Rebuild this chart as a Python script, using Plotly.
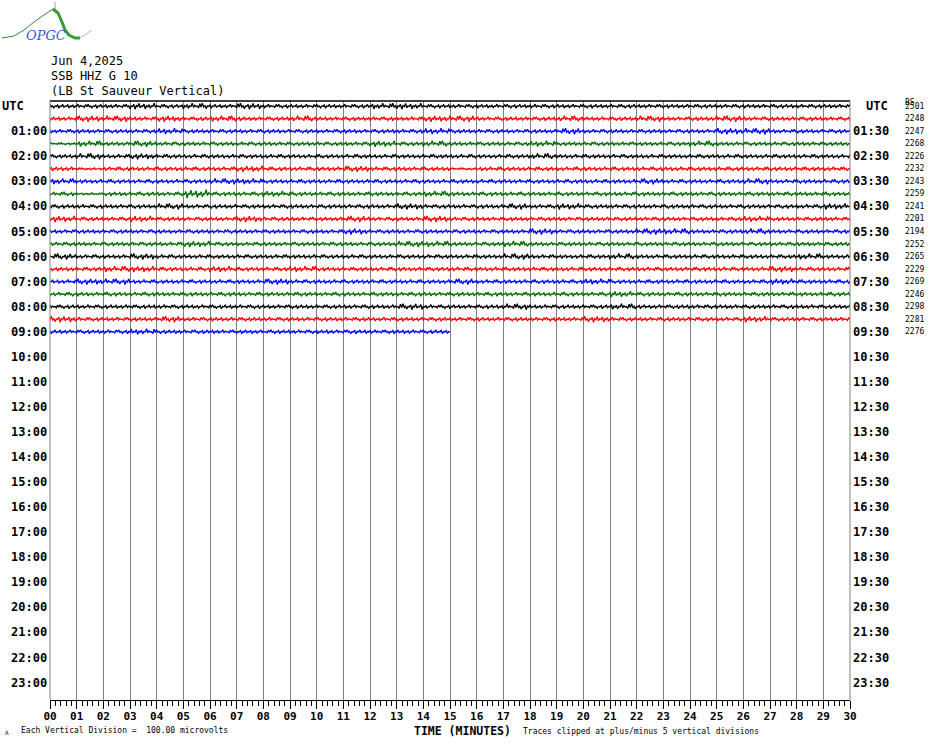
import plotly.graph_objects as go

# ---------------- data ----------------
header_lines = ["Jun 4,2025", "SSB HHZ G 10", "(LB St Sauveur Vertical)"]

minute_ticks = list(range(31))
minute_labels = ["00", "01", "02", "03", "04", "05", "06", "07", "08", "09", "10",
                 "11", "12", "13", "14", "15", "16", "17", "18", "19", "20",
                 "21", "22", "23", "24", "25", "26", "27", "28", "29", "30"]

left_hour_labels = ["UTC", "01:00", "02:00", "03:00", "04:00", "05:00", "06:00", "07:00",
                    "08:00", "09:00", "10:00", "11:00", "12:00", "13:00", "14:00", "15:00",
                    "16:00", "17:00", "18:00", "19:00", "20:00", "21:00", "22:00", "23:00"]
right_hour_labels = ["UTC", "01:30", "02:30", "03:30", "04:30", "05:30", "06:30", "07:30",
                     "08:30", "09:30", "10:30", "11:30", "12:30", "13:30", "14:30", "15:30",
                     "16:30", "17:30", "18:30", "19:30", "20:30", "21:30", "22:30", "23:30"]

row_counts = ["2501", "2248", "2247", "2268", "2226", "2232", "2243", "2259", "2241", "2201",
              "2194", "2252", "2265", "2229", "2269", "2246", "2298", "2281", "2276"]

# amplitude level for each minute of each 30-minute row (0 flat .. 4 large)
row_levels = [
    "222323232222332222222222222222",
    "233232322322223322232232232222",
    "222232222222223222232222233222",
    "132322222222323222322222322222",
    "232322222222222222322222222222",
    "212222232223222122222222222222",
    "322222332222222222222232223222",
    "212224223222223222222222222222",
    "222232222222232223232222222223",
    "322322232223223222222222223222",
    "222222222223222222322233223222",
    "222223222222233223222222222222",
    "322322222222222223222322222232",
    "223322322322222222222222222322",
    "233222223222222322223222222322",
    "222222222222222222222322222222",
    "222222222222232223222322222222",
    "322232222222222222223222223222",
    "222322222222222",
]

trace_colors = ["#000000", "#ff0000", "#0000ff", "#006f00"]

# ---------------- layout geometry (pixels) ----------------
FIG_W, FIG_H = 930, 744
L, R, T, B = 50, 850, 101, 700
ROW0 = 106.2
ROW_PX = 12.53
LEVEL_PX = [0.5, 1.0, 2.0, 3.0, 4.2]
CARRIER = [1.0, -0.3, 0.15, -0.8, 0.1, -0.1, 0.6, -1.0, 0.2, -0.15, 0.9, -0.5,
           0.1, -0.1, 0.7, -0.9, 0.15, -0.2, 0.5, -0.7, 0.1, -0.05, 1.0, -0.4,
           0.3, -0.1, 0.05, -0.6, 0.85, -0.25]
PTS_PER_MIN = 21


def px_x(px):
    return (px - L) / (R - L)


def px_y(py):
    return (B - py) / (B - T)


fig = go.Figure()

for r, codes in enumerate(row_levels):
    xs, ys = [], []
    n = len(codes) * PTS_PER_MIN
    for k in range(n + 1):
        m = min(k // PTS_PER_MIN, len(codes) - 1)
        a = LEVEL_PX[int(codes[m])] / ROW_PX
        xs.append(k / PTS_PER_MIN)
        ys.append(-r + a * CARRIER[(k + 7 * r) % len(CARRIER)])
    fig.add_trace(go.Scatter(x=xs, y=ys, mode="lines",
                             line=dict(color=trace_colors[r % 4], width=1.3),
                             hoverinfo="skip", showlegend=False))

mono = "DejaVu Sans Mono"
ann = []
# header
for i, line in enumerate(header_lines):
    ann.append(dict(text=line, xref="paper", yref="paper", x=px_x(49), y=px_y(61 + 15 * i),
                    xanchor="left", yanchor="middle", showarrow=False,
                    font=dict(family=mono, size=12, color="black")))
# hour labels
for h in range(24):
    yv = -2 * h
    if h == 0:
        ann.append(dict(text="<b>UTC</b>", xref="paper", yref="y", x=px_x(0), y=yv,
                        xanchor="left", yanchor="middle", showarrow=False,
                        font=dict(family=mono, size=12, color="black")))
        ann.append(dict(text="<b>UTC</b>", xref="paper", yref="y", x=px_x(864), y=yv,
                        xanchor="left", yanchor="middle", showarrow=False,
                        font=dict(family=mono, size=12, color="black")))
    else:
        ann.append(dict(text="<b>" + left_hour_labels[h] + "</b>", xref="paper", yref="y",
                        x=px_x(49), y=yv, xanchor="right", yanchor="middle", showarrow=False,
                        font=dict(family=mono, size=12, color="black")))
        ann.append(dict(text="<b>" + right_hour_labels[h] + "</b>", xref="paper", yref="y",
                        x=px_x(851), y=yv, xanchor="left", yanchor="middle", showarrow=False,
                        font=dict(family=mono, size=12, color="black")))
# right-side counts
for i, c in enumerate(row_counts):
    ann.append(dict(text=c, xref="paper", yref="y", x=px_x(903), y=-i,
                    xanchor="left", yanchor="middle", showarrow=False,
                    font=dict(family=mono, size=8, color="black")))
ann.append(dict(text="BS", xref="paper", yref="paper", x=px_x(903), y=px_y(103),
                xanchor="left", yanchor="middle", showarrow=False,
                font=dict(family=mono, size=8, color="black")))
# bottom texts
ann.append(dict(text="Each Vertical Division =  100.00 microvolts", xref="paper", yref="paper",
                x=px_x(19), y=px_y(730), xanchor="left", yanchor="middle", showarrow=False,
                font=dict(family=mono, size=8, color="black")))
ann.append(dict(text="<b>TIME (MINUTES)</b>", xref="paper", yref="paper",
                x=px_x(462), y=px_y(731), xanchor="center", yanchor="middle", showarrow=False,
                font=dict(family=mono, size=11.5, color="black")))
ann.append(dict(text="Traces clipped at plus/minus 5 vertical divisions", xref="paper",
                yref="paper", x=px_x(521), y=px_y(731), xanchor="left", yanchor="middle",
                showarrow=False, font=dict(family=mono, size=8, color="black")))
ann.append(dict(text="A", xref="paper", yref="paper", x=px_x(3), y=px_y(732),
                xanchor="left", yanchor="middle", showarrow=False,
                font=dict(family=mono, size=6, color="black")))
# logo text
ann.append(dict(text="<i>OPGC</i>", xref="paper", yref="paper", x=px_x(46), y=px_y(35),
                xanchor="center", yanchor="middle", showarrow=False,
                font=dict(family="DejaVu Serif", size=13, color="#2a5fd6")))

shapes = []
# borders
shapes.append(dict(type="line", xref="paper", yref="paper", x0=0, x1=1, y0=1, y1=1,
                   line=dict(color="black", width=1.5)))
shapes.append(dict(type="line", xref="paper", yref="paper", x0=0, x1=0, y0=0, y1=1,
                   line=dict(color="#808080", width=1)))
shapes.append(dict(type="line", xref="paper", yref="paper", x0=1, x1=1, y0=0, y1=1,
                   line=dict(color="#808080", width=1)))


def path(points):
    s = "M %f %f" % (px_x(points[0][0]), px_y(points[0][1]))
    for p in points[1:]:
        s += " L %f %f" % (px_x(p[0]), px_y(p[1]))
    return s


shapes.append(dict(type="path", xref="paper", yref="paper",
                   path=path([(2, 38), (14, 36), (24, 30), (34, 22), (44, 15), (50, 11), (55, 8)]),
                   line=dict(color="#2e8b2e", width=1)))
shapes.append(dict(type="path", xref="paper", yref="paper",
                   path=path([(53, 9), (58, 13), (62, 22), (65, 30), (69, 35), (75, 38), (80, 38)]),
                   line=dict(color="#3a9a3a", width=3)))
shapes.append(dict(type="path", xref="paper", yref="paper",
                   path=path([(80, 38), (86, 34), (92, 30)]),
                   line=dict(color="#9acd9a", width=1)))
shapes.append(dict(type="line", xref="paper", yref="paper", x0=px_x(55), x1=px_x(55),
                   y0=px_y(2), y1=px_y(9), line=dict(color="#a0a0a0", width=1)))

y_top = (ROW0 - T) / ROW_PX
y_bot = -(B - ROW0) / ROW_PX

fig.update_layout(
    width=FIG_W, height=FIG_H,
    margin=dict(l=L, r=FIG_W - R, t=T, b=FIG_H - B),
    paper_bgcolor="white", plot_bgcolor="white",
    annotations=ann, shapes=shapes,
    xaxis=dict(range=[0, 30], tickvals=minute_ticks,
               ticktext=["<b>" + t + "</b>" for t in minute_labels],
               showgrid=True, gridcolor="#808080", gridwidth=1, zeroline=False,
               showline=True, linecolor="black", linewidth=1,
               ticks="outside", ticklen=8, tickwidth=1, tickcolor="black",
               ticklabelstandoff=-2,
               minor=dict(dtick=0.2, ticks="outside", ticklen=5, tickwidth=1,
                          tickcolor="black", showgrid=False),
               tickfont=dict(family=mono, size=11, color="black")),
    yaxis=dict(range=[y_bot, y_top], showgrid=False, zeroline=False,
               showticklabels=False, ticks=""),
)

fig.write_html("out.html", config={"displayModeBar": False},
               post_script="document.body.style.margin='0';document.body.style.padding='0';")
